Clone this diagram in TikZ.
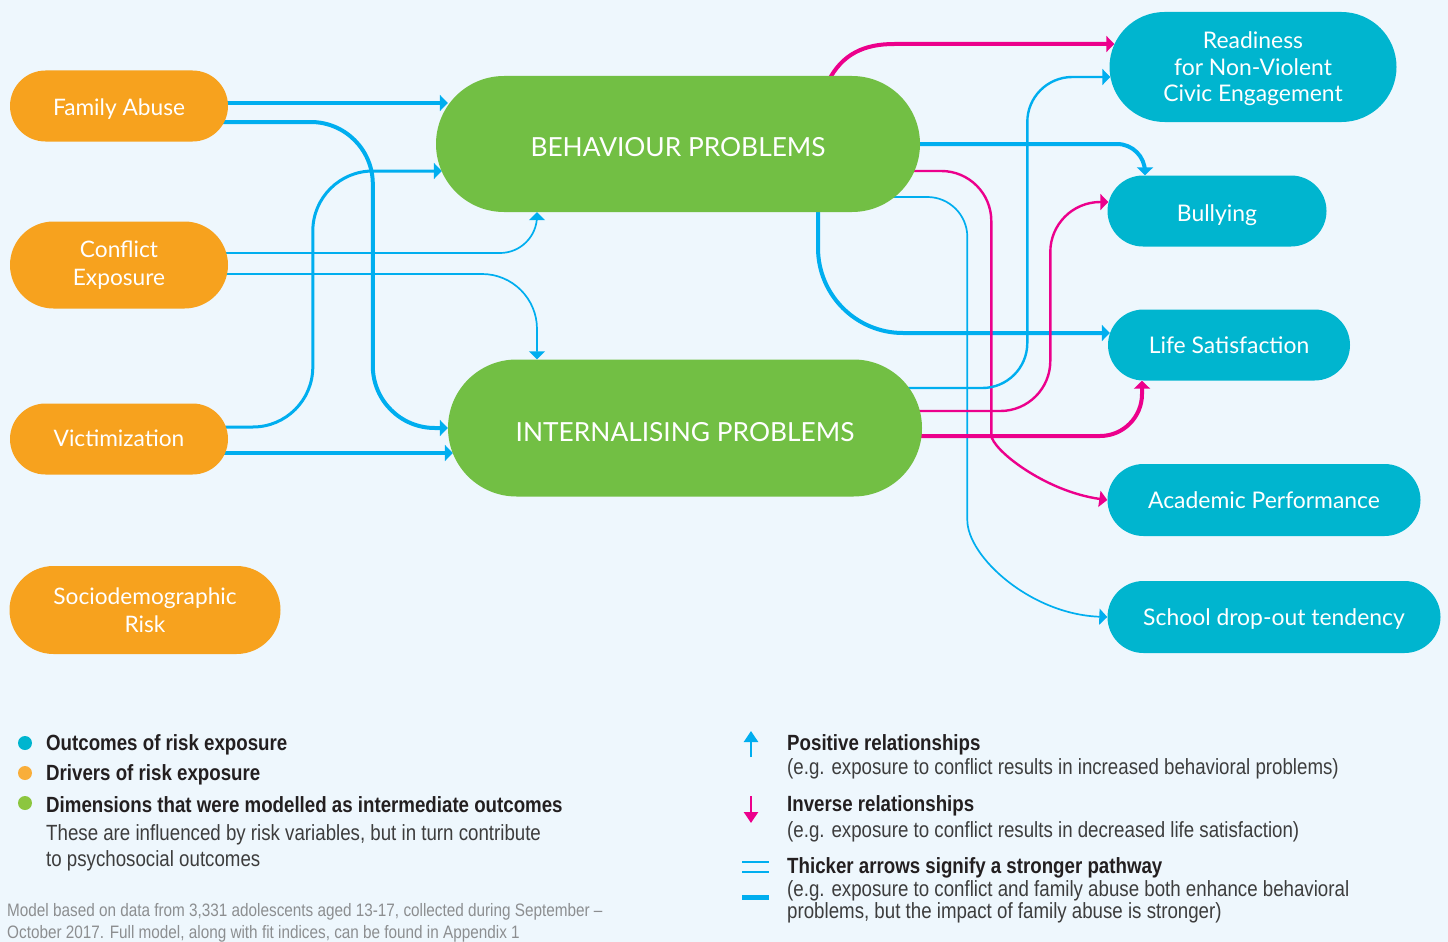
\documentclass[tikz,border=0pt]{standalone}
\usepackage{fontspec}
\setmainfont{Lato}
\newfontfamily\legendfont[FakeStretch=0.85]{Liberation Sans}
\usetikzlibrary{arrows.meta,backgrounds}

\definecolor{bgblue}{HTML}{EEF7FD}
\definecolor{driver}{HTML}{F7A21E}
\definecolor{inter}{HTML}{72BF44}
\definecolor{outcome}{HTML}{00B5CF}
\definecolor{posblue}{HTML}{00AEEF}
\definecolor{invpink}{HTML}{EC008C}
\definecolor{legdark}{HTML}{231F20}
\definecolor{leggray}{HTML}{3D3D3D}
\definecolor{notegray}{HTML}{8C8E90}
\definecolor{dotorange}{HTML}{F9AE3A}
\definecolor{dotgreen}{HTML}{8CC63F}

\tikzset{
  pill/.style={text=white, align=center, inner sep=0pt},
  oneline/.style={text height=#1, text depth=0pt},
  oneline/.default=16pt,
  driverbox/.style={pill, fill=driver, font=\fontsize{22.7}{28}\selectfont},
  interbox/.style={pill, fill=inter, font=\fontsize{26.3}{30}\selectfont},
  outbox/.style={pill, fill=outcome, font=\fontsize{22.9}{26.5}\selectfont},
  arrowbase/.style={-{Triangle[length=8pt,width=16pt]}},
  thinarrow/.style={arrowbase, line width=1.7pt},
  medarrow/.style={arrowbase, line width=2.4pt},
  thickarrow/.style={arrowbase, line width=4pt},
  legdot/.style={circle, inner sep=0pt, minimum size=14pt},
  legtitle/.style={anchor=west, inner sep=0pt, yshift=-2pt, text=legdark, font=\legendfont\bfseries\fontsize{22}{26}\selectfont},
  legsub/.style={anchor=west, inner sep=0pt, yshift=-2pt, text=leggray, font=\legendfont\fontsize{22}{26}\selectfont},
  legfoot/.style={anchor=west, inner sep=0pt, yshift=-1pt, text=notegray, font=\legendfont\fontsize{18}{22}\selectfont},
}

\begin{document}
\begin{tikzpicture}[x=1pt,y=-1pt]
\useasboundingbox (0,0) rectangle (1448,942);
\begin{scope}[on background layer]
\fill[bgblue] (0,0) rectangle (1448,942);
\end{scope}

\node[driverbox, oneline=18pt, minimum width=218pt, minimum height=71pt, rounded corners=35.5pt] (abuse) at (119,106) {Family Abuse};
\node[driverbox, minimum width=218pt, minimum height=87pt, rounded corners=43.5pt] (conflict) at (119,265) {Conflict\\Exposure};
\node[driverbox, oneline=14pt, minimum width=218pt, minimum height=71pt, rounded corners=35.5pt] (victim) at (119,439) {Victimization};
\node[driverbox, minimum width=271pt, minimum height=88pt, rounded corners=44pt] (socio) at (145,610) {Sociodemographic\\Risk};

\node[interbox, oneline=25pt, minimum width=484pt, minimum height=136pt, rounded corners=68pt] (behav) at (678,144) {BEHAVIOUR PROBLEMS};
\node[interbox, oneline=26pt, minimum width=474pt, minimum height=137pt, rounded corners=68.5pt] (intern) at (685,428) {INTERNALISING PROBLEMS};

\node[outbox, text depth=0pt, minimum width=287pt, minimum height=110pt, rounded corners=55pt] (ready) at (1253,67) {Readiness\\for Non-Violent\\Civic Engagement};
\node[outbox, oneline=20pt, minimum width=219pt, minimum height=71pt, rounded corners=35.5pt] (bully) at (1217,211) {Bullying};
\node[outbox, oneline, minimum width=242pt, minimum height=71pt, rounded corners=35.5pt] (life) at (1229,345) {Life Satisfaction};
\node[outbox, oneline, minimum width=313pt, minimum height=72pt, rounded corners=36pt] (acad) at (1264,500) {Academic Performance};
\node[outbox, oneline, minimum width=333pt, minimum height=72pt, rounded corners=36pt] (drop) at (1274,617) {School drop-out tendency};

\begin{scope}[on background layer]
\draw[thickarrow, posblue] ([yshift=3pt]abuse.center) -- ([xshift=12pt,yshift=41pt]behav.west);
\draw[thickarrow, posblue, rounded corners=62pt] ([yshift=-16pt]abuse.center) -| ([xshift=-75pt]intern.west) -- (intern.west);
\draw[medarrow, line width=3pt, posblue, rounded corners=60pt] ([yshift=12pt]victim.center) -| ([xshift=-123pt,yshift=-27pt]behav.west) -- ([xshift=6pt,yshift=-27pt]behav.west);
\draw[thickarrow, posblue] ([yshift=-14pt]victim.center) -- ([xshift=5pt,yshift=-25pt]intern.west);
\draw[thinarrow, posblue, rounded corners=37pt] ([yshift=12pt]conflict.center) -| ([xshift=-141pt]behav.south);
\draw[thinarrow, posblue, rounded corners=55pt] ([yshift=-9pt]conflict.center) -| ([xshift=-148pt]intern.north);

\draw[thickarrow, invpink] ([xshift=150pt,yshift=-6pt]behav.north) .. controls +(14pt,28pt) and +(-30pt,0pt) .. ([xshift=-215pt,yshift=23pt]ready.west) -- ([xshift=5pt,yshift=23pt]ready.west);
\draw[thickarrow, posblue, rounded corners=28pt] (behav.center) -| ([xshift=-72pt]bully.north);
\draw[thickarrow, posblue, rounded corners=85pt] ([xshift=140pt]behav.center) |- ([xshift=2pt,yshift=12pt]life.west);
\draw[medarrow, invpink, rounded corners=50pt] ([yshift=-27pt]behav.center) -| ([xshift=-116pt,yshift=115pt]acad.west) to[out=-90,in=172] (acad.west);
\draw[thinarrow, posblue, rounded corners=40pt] ([yshift=-53pt]behav.center) -| ([xshift=-140pt,yshift=137pt]drop.west) to[out=-90,in=178] (drop.west);
\draw[medarrow, posblue, rounded corners=45pt] ([yshift=40pt]intern.center) -| ([xshift=-82pt,yshift=-10pt]ready.west) -- ([xshift=1pt,yshift=-10pt]ready.west);
\draw[medarrow, invpink, rounded corners=50pt] ([yshift=17pt]intern.center) -| ([xshift=-57pt,yshift=9pt]bully.west) -- ([xshift=1pt,yshift=9pt]bully.west);
\draw[thickarrow, invpink, rounded corners=42pt] ([yshift=-8pt]intern.center) -| ([xshift=-87pt]life.south);
\end{scope}

\foreach \col/\y/\txt in {outcome/743/Outcomes of risk exposure, dotorange/773/Drivers of risk exposure, dotgreen/803/Dimensions that were modelled as intermediate outcomes}
{
	\node[legdot, fill=\col] (dot\y) at (25,\y) {};
	\node[legtitle] (key\y) at (46,\y) {\txt};
}
\node[legsub] (note1) at (46,833) {These are influenced by risk variables, but in turn contribute};
\node[legsub] (note2) at (46,859) {to psychosocial outcomes};
\node[legfoot] (foot1) at (7,911) {Model based on data from 3,331 adolescents aged 13-17, collected during September –};
\node[legfoot] (foot2) at (7,933) {October 2017. Full model, along with fit indices, can be found in Appendix 1};

\coordinate (posbot) at (751,757);
\coordinate (postop) at (751,731);
\draw[posblue, line width=2.5pt, -{Triangle[length=11pt,width=14pt]}] (posbot) -- (postop);
\node[legtitle] (poskey) at (787,743) {Positive relationships};
\node[legsub] (posnote) at (787,767) {(e.g. exposure to conflict results in increased behavioral problems)};
\coordinate (invtop) at (751,796);
\coordinate (invbot) at (751,823);
\draw[invpink, line width=2.5pt, -{Triangle[length=11pt,width=14pt]}] (invtop) -- (invbot);
\node[legtitle] (invkey) at (787,804) {Inverse relationships};
\node[legsub] (invnote) at (787,830) {(e.g. exposure to conflict results in decreased life satisfaction)};
\draw[posblue, line width=2pt] (742,862) -- (769,862);
\draw[posblue, line width=2pt] (742,872) -- (769,872);
\draw[posblue, line width=5pt] (742,897) -- (769,897);
\node[legtitle] (thickkey) at (787,866) {Thicker arrows signify a stronger pathway};
\node[legsub] (thicknote1) at (787,889) {(e.g. exposure to conflict and family abuse both enhance behavioral};
\node[legsub] (thicknote2) at (787,911) {problems, but the impact of family abuse is stronger)};
\end{tikzpicture}
\end{document}
